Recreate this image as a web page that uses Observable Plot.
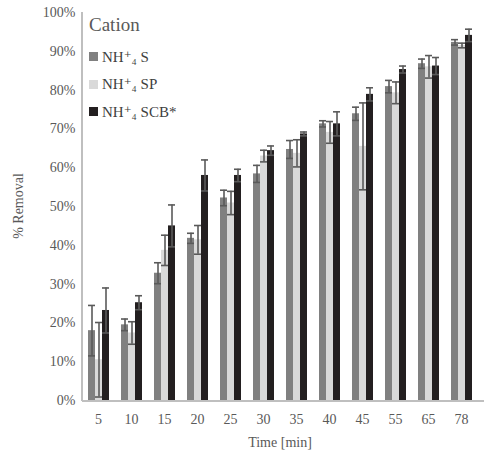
<!DOCTYPE html>
<html>
<head>
<meta charset="utf-8">
<script src="https://cdn.jsdelivr.net/npm/d3@7"></script>
<script src="https://cdn.jsdelivr.net/npm/@observablehq/plot@0.6"></script>
<style>
  body { margin: 0; background: #fff; }
  #wrap { position: relative; width: 484px; height: 454px; font-family: "Liberation Serif", "DejaVu Serif", serif; }
  #wrap svg, #wrap svg text { font-family: "Liberation Serif", "DejaVu Serif", serif !important; }
  #legend { position: absolute; left: 89px; top: 14px; color: #595959; }
  #legend .title { font-size: 19px; margin-bottom: 7px; }
  #legend .item { font-size: 15px; height: 27.5px; display: flex; align-items: center; color: #404040; }
  #legend .sw { width: 9px; height: 9px; margin-right: 4px; display: inline-block; }
</style>
</head>
<body>
<div id="wrap"></div>
<script>
const times = ["5","10","15","20","25","30","35","40","45","55","65","78"];
const seriesNames = ["NH⁺₄ S", "NH⁺₄ SP", "NH⁺₄ SCB*"];
const seriesColors = ["#808080", "#d9d9d9", "#231f20"];
const legendTitle = "Cation";
const yTitle = "% Removal";
const xTitle = "Time [min]";

// mean % removal and standard deviation (percent)
const meanS   = [18.0, 19.5, 32.8, 41.8, 52.2, 58.4, 64.7, 71.3, 73.9, 80.9, 86.8, 92.3];
const sdS     = [ 6.5,  1.5,  2.7,  1.3,  2.0,  2.2,  2.3,  0.8,  1.7,  1.6,  1.2,  0.7];
const meanSP  = [10.5, 17.4, 38.7, 41.4, 50.9, 63.0, 63.7, 69.1, 65.5, 79.3, 86.0, 91.5];
const sdSP    = [ 9.6,  2.9,  3.9,  3.7,  3.0,  1.5,  3.5,  2.8, 11.2,  2.8,  2.9,  0.6];
const meanSCB = [23.2, 25.2, 45.0, 58.0, 58.0, 64.4, 68.7, 71.3, 78.9, 85.3, 86.2, 94.1];
const sdSCB   = [ 5.8,  1.8,  5.4,  4.0,  1.6,  1.2,  0.5,  3.1,  1.7,  0.9,  2.2,  1.6];

const means = [meanS, meanSP, meanSCB];
const sds = [sdS, sdSP, sdSCB];
const rows = [];
times.forEach((t, i) => {
  seriesNames.forEach((s, j) => {
    const m = means[j][i] / 100, sd = sds[j][i] / 100;
    rows.push({time: t, series: s, mean: m, lo: Math.max(0, m - sd), hi: m + sd});
  });
});

const W = 484, H = 454, ML = 79, MR = 4, MT = 12, MB = 54, AXIS_X = 82;
const chart = Plot.plot({
  width: W, height: H,
  marginLeft: ML, marginRight: MR, marginTop: MT, marginBottom: MB,
  style: {fontFamily: "Liberation Serif, DejaVu Serif, serif", fontSize: "14px", color: "#595959", background: "white"},
  fx: {domain: times, paddingInner: 0.33, paddingOuter: 0.19, label: xTitle, labelAnchor: "center", labelOffset: 46, tickSize: 0, tickPadding: 14},
  x: {domain: seriesNames, axis: null, padding: 0},
  y: {domain: [0, 1], ticks: d3.range(0, 1.001, 0.1), tickFormat: d3.format(".0%"), label: null, tickSize: 0, tickPadding: 12},
  color: {domain: seriesNames, range: seriesColors},
  marks: [
    Plot.barY(rows, {fx: "time", x: "series", y: "mean", fill: "series"}),
    Plot.ruleX(rows, {fx: "time", x: "series", y1: "lo", y2: "hi", stroke: "#5a5a5a", strokeWidth: 1.6}),
    Plot.tickY(rows, {fx: "time", x: "series", y: "lo", stroke: "#5a5a5a", strokeWidth: 1.6}),
    Plot.tickY(rows, {fx: "time", x: "series", y: "hi", stroke: "#5a5a5a", strokeWidth: 1.6})
  ]
});

const svg = d3.select(chart.tagName.toLowerCase() === "svg" ? chart : chart.querySelector("svg"));
// axis lines
svg.append("line").attr("x1", AXIS_X).attr("x2", AXIS_X).attr("y1", MT).attr("y2", H - MB + 1)
  .attr("stroke", "#bfbfbf").attr("stroke-width", 2);
svg.append("line").attr("x1", AXIS_X).attr("x2", W).attr("y1", H - MB + 1).attr("y2", H - MB + 1)
  .attr("stroke", "#bfbfbf").attr("stroke-width", 2);
// y title
svg.append("text")
  .attr("transform", `translate(23,${(MT + H - MB) / 2}) rotate(-90)`)
  .attr("text-anchor", "middle")
  .attr("fill", "#595959")
  .style("font-size", "14px")
  .text(yTitle);

const wrap = document.getElementById("wrap");
wrap.appendChild(chart);

const legend = document.createElement("div");
legend.id = "legend";
const title = document.createElement("div");
title.className = "title";
title.textContent = legendTitle;
legend.appendChild(title);
seriesNames.forEach((s, j) => {
  const item = document.createElement("div");
  item.className = "item";
  const sw = document.createElement("span");
  sw.className = "sw";
  sw.style.background = seriesColors[j];
  item.appendChild(sw);
  item.appendChild(document.createTextNode(s));
  legend.appendChild(item);
});
wrap.appendChild(legend);
</script>
</body>
</html>
